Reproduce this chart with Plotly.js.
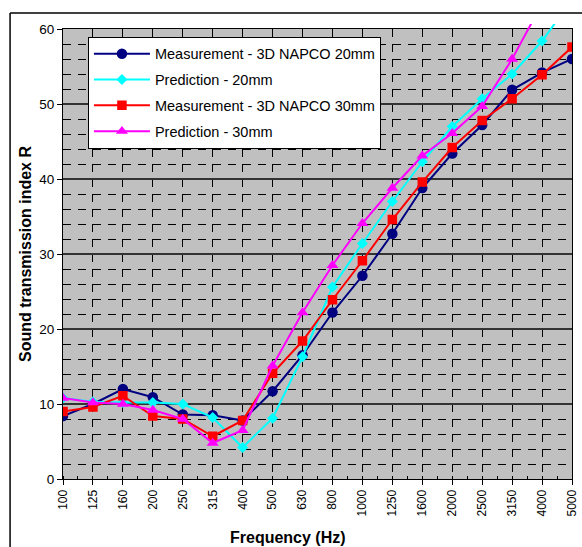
<!DOCTYPE html>
<html>
<head>
<meta charset="utf-8">
<script src="https://cdn.plot.ly/plotly-3.0.1.min.js"></script>
<style>
  html, body { margin: 0; padding: 0; background: #ffffff; }
  #chart { width: 582px; height: 547px; }
</style>
</head>
<body>
<div id="chart"></div>
<script>
// Frequency bands (Hz) - category labels
const frequencies = ['100','125','160','200','250','315','400','500','630','800','1000','1250','1600','2000','2500','3150','4000','5000'];

// Sound transmission index R (dB)
const measurement20 = [8.4, 10.0, 12.0, 10.9, 8.6, 8.5, 7.8, 11.7, 16.5, 22.2, 27.1, 32.7, 38.8, 43.4, 47.2, 51.9, 54.2, 56.0];
const prediction20  = [10.8, 10.3, 10.2, 10.2, 10.0, 8.2, 4.2, 8.1, 16.3, 25.6, 31.4, 37.0, 42.3, 47.0, 50.7, 54.0, 58.4, 63.9];
const measurement30 = [9.0, 9.6, 11.1, 8.4, 8.0, 5.7, 7.8, 14.1, 18.4, 23.9, 29.1, 34.6, 39.6, 44.2, 47.8, 50.7, 53.9, 57.6];
const prediction30  = [10.8, 10.2, 10.0, 9.2, 8.0, 4.8, 6.5, 15.1, 22.2, 28.5, 34.1, 38.8, 43.1, 46.1, 49.7, 56.0, 63.4, 68.0];

const seriesNames = ['Measurement - 3D NAPCO 20mm', 'Prediction - 20mm', 'Measurement - 3D NAPCO 30mm', 'Prediction - 30mm'];

const xIdx = frequencies.map((f, i) => i);
const FONT = 'Liberation Sans, Arial, sans-serif';
const Y_MAX = 60;          // axis maximum shown by the frame
const Y_OVER = 60.67;      // lines are allowed to run a few pixels past the frame
const yDomainTop = Y_MAX / Y_OVER;

function series(name, y, color, symbol, size, group) {
  return {
    type: 'scatter', mode: 'lines+markers', name: name,
    x: xIdx, y: y, xaxis: 'x2', yaxis: 'y2', legendgroup: group,
    line: { color: color, width: 2 },
    marker: { color: color, symbol: symbol, size: size, line: { width: 0 } },
    cliponaxis: true
  };
}

const traces = [
  // empty carrier so the grid / frame axes (x, y) get drawn underneath the data
  { type: 'scatter', mode: 'markers', x: [], y: [], xaxis: 'x', yaxis: 'y', showlegend: false, hoverinfo: 'skip' },
  series(seriesNames[0], measurement20, '#000080', 'circle', 10.5, 'g1'),
  series(seriesNames[1], prediction20, '#00FFFF', 'diamond', 8.5, 'g2'),
  series(seriesNames[2], measurement30, '#FF0000', 'square', 9.5, 'g3'),
  series(seriesNames[3], prediction30, '#FF00FF', 'triangle-up', 10.5, 'g4')
];

const layout = {
  width: 582, height: 547,
  margin: { l: 63, r: 10, t: 24, b: 68 },
  paper_bgcolor: '#ffffff',
  plot_bgcolor: 'rgba(0,0,0,0)',
  font: { family: FONT, color: '#000000' },
  showlegend: true,
  legend: {
    x: 0.049, y: 0.972, xanchor: 'left', yanchor: 'top',
    bgcolor: '#ffffff', bordercolor: '#000000', borderwidth: 1,
    font: { family: FONT, size: 14.5, color: '#000000' },
    tracegroupgap: 4, itemwidth: 56
  },
  // grid / frame subplot (0..60)
  xaxis: {
    type: 'linear', range: [0, xIdx.length - 1], domain: [0, 1], anchor: 'y',
    tickmode: 'array', tickvals: xIdx, ticktext: frequencies,
    tickangle: -90, tickfont: { family: FONT, size: 12 },
    ticks: 'outside', ticklen: 5, tickcolor: '#000000',
    showline: true, mirror: true, linecolor: '#000000', linewidth: 1,
    showgrid: true, gridcolor: '#000000', gridwidth: 1, griddash: '8px,7px',
    zeroline: false,
    minor: { tickmode: 'linear', tick0: 0, dtick: 0.5, ticks: 'inside', ticklen: 3, tickcolor: '#000000', showgrid: false }
  },
  yaxis: {
    type: 'linear', range: [0, Y_MAX], domain: [0, yDomainTop], anchor: 'x',
    tickmode: 'linear', tick0: 0, dtick: 10,
    tickfont: { family: FONT, size: 13.5 },
    ticks: 'outside', ticklen: 5, tickcolor: '#000000',
    showline: true, mirror: true, linecolor: '#000000', linewidth: 1,
    showgrid: true, gridcolor: '#333333', gridwidth: 1.2,
    zeroline: false,
    minor: { tickmode: 'linear', tick0: 0, dtick: 2, showgrid: true, gridcolor: '#000000', gridwidth: 1, griddash: '8px,7px', ticks: '' },
    title: { text: 'Sound transmission index R', font: { family: FONT, size: 16, color: '#000000', weight: 'bold' }, standoff: 3 }
  },
  // data subplot: same x scale, y scale reaching slightly above the frame
  xaxis2: { type: 'linear', range: [0, xIdx.length - 1], domain: [0, 1], anchor: 'y2', visible: false, showgrid: false, zeroline: false },
  yaxis2: { type: 'linear', range: [0, Y_OVER], domain: [0, 1], anchor: 'x2', visible: false, showgrid: false, zeroline: false },
  shapes: [
    // grey plot area 0..60
    { type: 'rect', xref: 'x domain', yref: 'y domain', x0: 0, x1: 1, y0: 0, y1: 1, fillcolor: '#C0C0C0', line: { width: 0 }, layer: 'below' },
    // outer chart frame (top and left edges)
    { type: 'line', xref: 'paper', yref: 'paper', x0: -0.104, x1: 1.1, y0: 1.024, y1: 1.024, line: { color: '#000000', width: 1.5 } },
    { type: 'line', xref: 'paper', yref: 'paper', x0: -0.104, x1: -0.104, y0: -0.2, y1: 1.024, line: { color: '#000000', width: 1.5 } }
  ],
  annotations: [
    { text: '<b>Frequency (Hz)</b>', xref: 'paper', yref: 'paper', x: 0.443, y: -0.128, xanchor: 'center', yanchor: 'middle', showarrow: false, font: { family: FONT, size: 16, color: '#000000' } }
  ]
};

Plotly.newPlot('chart', traces, layout, { displayModeBar: false, staticPlot: true });
</script>
</body>
</html>
